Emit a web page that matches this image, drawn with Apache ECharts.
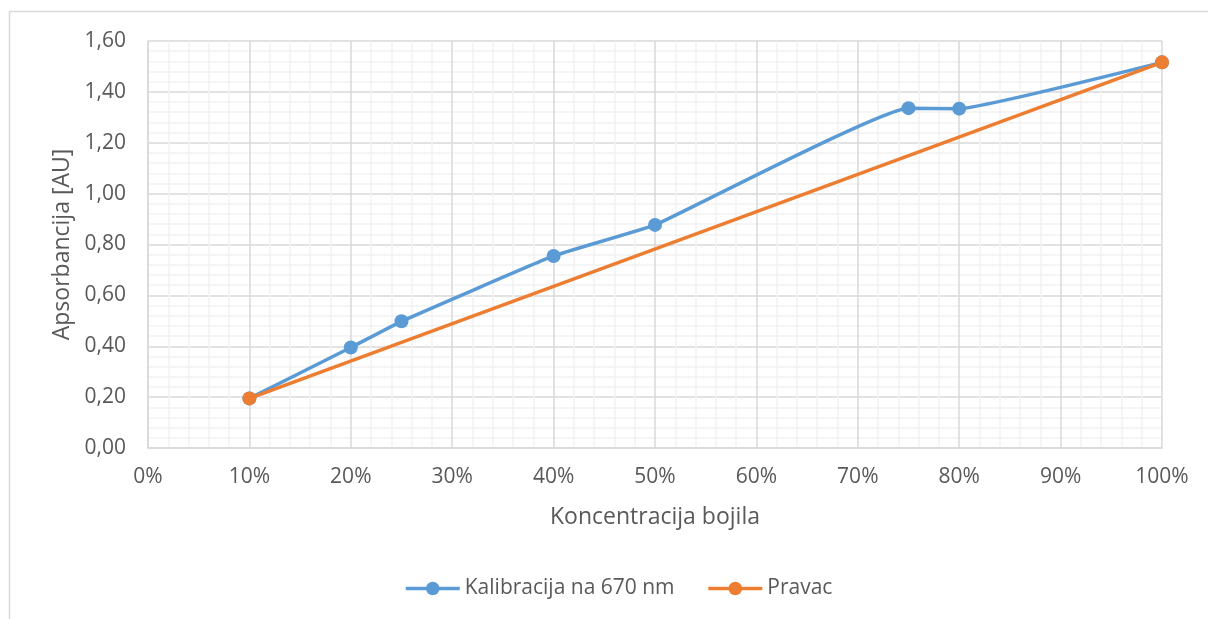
<!DOCTYPE html>
<html><head><meta charset="utf-8">
<script src="https://cdn.jsdelivr.net/npm/echarts@6/dist/echarts.min.js"></script>
<style>html,body{margin:0;padding:0;background:#fff}#c{width:1208px;height:619px}</style>
</head><body><div id="c"></div>
<script>
const calibX = [0.10, 0.20, 0.25, 0.40, 0.50, 0.75, 0.80, 1.00];
const calibY = [0.195, 0.395, 0.498, 0.755, 0.877, 1.336, 1.334, 1.516];
const lineX = [0.10, 1.00];
const lineY = [0.195, 1.516];
const seriesNames = ['Kalibracija na 670 nm', 'Pravac'];
const xName = 'Koncentracija bojila';
const yName = 'Apsorbancija [AU]';

const FONT = '"Open Sans", sans-serif';
const TXT = '#595959';
const chart = echarts.init(document.getElementById('c'));
chart.setOption({
  animation: false,
  graphic: [{type:'rect', shape:{x:9.5, y:11.5, width:1400, height:800}, style:{fill:'none', stroke:'#D9D9D9', lineWidth:1.5}, z:-1}],
  grid: {left:148, right:46, top:41, bottom:171},
  legend: {
    data: seriesNames, bottom: 15, left: 399, itemWidth: 54, itemHeight: 17, itemGap: 32,
    lineStyle: {width: 3.5},
    textStyle: {fontFamily: FONT, fontSize: 21, color: TXT}
  },
  xAxis: {
    type:'value', min:0, max:1, interval:0.1,
    name: xName, nameLocation:'middle', nameGap:58,
    nameTextStyle:{fontFamily:FONT, fontSize:23, color:TXT},
    axisLine:{show:true, lineStyle:{color:'#D9D9D9', width:1.5}},
    axisTick:{show:false},
    minorTick:{show:false, splitNumber:5},
    minorSplitLine:{show:true, lineStyle:{color:'#F2F2F2', width:1.5}},
    splitLine:{show:true, lineStyle:{color:'#D9D9D9', width:1.5}},
    axisLabel:{margin:19, fontFamily:FONT, fontSize:21, color:TXT,
      formatter: v => Math.round(v*100) + '%'}
  },
  yAxis: {
    type:'value', min:0, max:1.6, interval:0.2,
    name: yName, nameLocation:'middle', nameGap:74,
    nameTextStyle:{fontFamily:FONT, fontSize:23, color:TXT},
    axisLine:{show:true, lineStyle:{color:'#D9D9D9', width:1.5}},
    axisTick:{show:false},
    minorTick:{show:false, splitNumber:5},
    minorSplitLine:{show:true, lineStyle:{color:'#F2F2F2', width:1.5}},
    splitLine:{show:true, lineStyle:{color:'#D9D9D9', width:1.5}},
    axisLabel:{margin:22, fontFamily:FONT, fontSize:21, color:TXT,
      formatter: v => v.toFixed(2).replace('.', ',')}
  },
  series: [
    {name: seriesNames[0], type:'line', smooth:0.1, symbol:'circle', symbolSize:14,
     color:'#5B9BD5', lineStyle:{width:3.5, color:'#5B9BD5'}, itemStyle:{color:'#5B9BD5'},
     data: calibX.map((x,i)=>[x, calibY[i]])},
    {name: seriesNames[1], type:'line', symbol:'circle', symbolSize:14,
     color:'#ED7D31', lineStyle:{width:3.5, color:'#ED7D31'}, itemStyle:{color:'#ED7D31'},
     data: lineX.map((x,i)=>[x, lineY[i]])}
  ]
});
</script></body></html>
